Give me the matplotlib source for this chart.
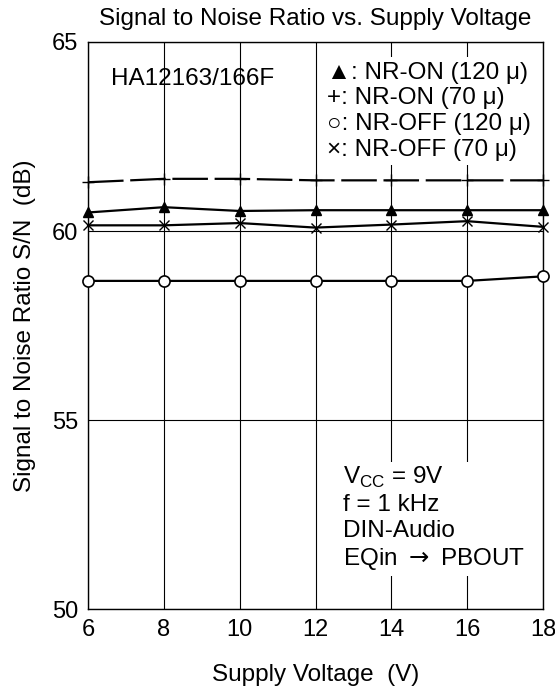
import matplotlib
matplotlib.use("Agg")
import matplotlib.pyplot as plt

plt.rcParams['font.family'] = ['Liberation Sans', 'DejaVu Sans']
plt.rcParams['mathtext.fontset'] = 'custom'
plt.rcParams['mathtext.rm'] = 'Liberation Sans'
plt.rcParams['mathtext.sf'] = 'DejaVu Sans'

voltage = [6, 8, 10, 12, 14, 16, 18]
nr_on_120 = [60.49, 60.63, 60.53, 60.55, 60.55, 60.55, 60.55]
nr_on_70 = [61.29, 61.38, 61.38, 61.34, 61.34, 61.34, 61.34]
nr_off_120 = [58.68, 58.68, 58.68, 58.68, 58.68, 58.68, 58.80]
nr_off_70 = [60.15, 60.15, 60.21, 60.09, 60.17, 60.26, 60.11]

x_ticks = [6, 8, 10, 12, 14, 16, 18]
y_ticks = [50, 55, 60, 65]

fs = 17.5

fig = plt.figure(figsize=(5.55, 6.93), dpi=100)
ax = fig.add_axes([0.1586, 0.1212, 0.8198, 0.8182])

ax.set_xlim(6, 18)
ax.set_ylim(50, 65)
ax.set_xticks(x_ticks)
ax.set_yticks(y_ticks)
ax.tick_params(length=0, labelsize=17, pad=7)
ax.grid(True, color='black', linewidth=0.8)
ax.set_axisbelow(True)
for s in ax.spines.values():
    s.set_linewidth(1.0)

lw = 1.6
ax.plot(voltage, nr_on_70, color='black', lw=lw, dashes=(16, 3),
        marker='+', ms=9, mew=1.0, zorder=3, clip_on=False)
ax.plot(voltage, nr_on_120, color='black', lw=lw, marker='^', ms=7, zorder=3,
        clip_on=False)
ax.plot(voltage, nr_off_70, color='black', lw=lw, marker='x', ms=7, mew=1.0,
        zorder=3, clip_on=False)
ax.plot(voltage, nr_off_120, color='black', lw=lw, marker='o', ms=8,
        mfc='white', mew=1.2, zorder=3, clip_on=False)

ax.set_title('Signal to Noise Ratio vs. Supply Voltage', fontsize=fs, pad=12)
ax.set_xlabel('Supply Voltage  (V)', fontsize=fs)
ax.xaxis.set_label_coords(0.5, -0.097)
ax.set_ylabel('Signal to Noise Ratio S/N  (dB)', fontsize=fs)
ax.yaxis.set_label_coords(-0.114, 0.5)

ax.text(0.05, 0.935, 'HA12163/166F', transform=ax.transAxes, fontsize=fs,
        va='center', ha='left')

leg_text = ('\u25B2: NR-ON (120 \u03bc)\n+: NR-ON (70 \u03bc)\n'
            '\u25CB: NR-OFF (120 \u03bc)\n\u00D7: NR-OFF (70 \u03bc)')
ax.text(0.525, 0.878, leg_text, transform=ax.transAxes, fontsize=fs,
        va='center', ha='left', linespacing=1.22,
        bbox=dict(facecolor='white', edgecolor='none', pad=3))

cond_text = ('V$_{\\rm CC}$ = 9V\nf = 1 kHz\nDIN-Audio\n'
             'EQin $\\mathsf{\\rightarrow}$ PBOUT')
ax.text(0.56, 0.160, cond_text, transform=ax.transAxes, fontsize=fs,
        va='center', ha='left', linespacing=1.22,
        bbox=dict(facecolor='white', edgecolor='none', pad=3))

fig.savefig('out.png', dpi=100)
